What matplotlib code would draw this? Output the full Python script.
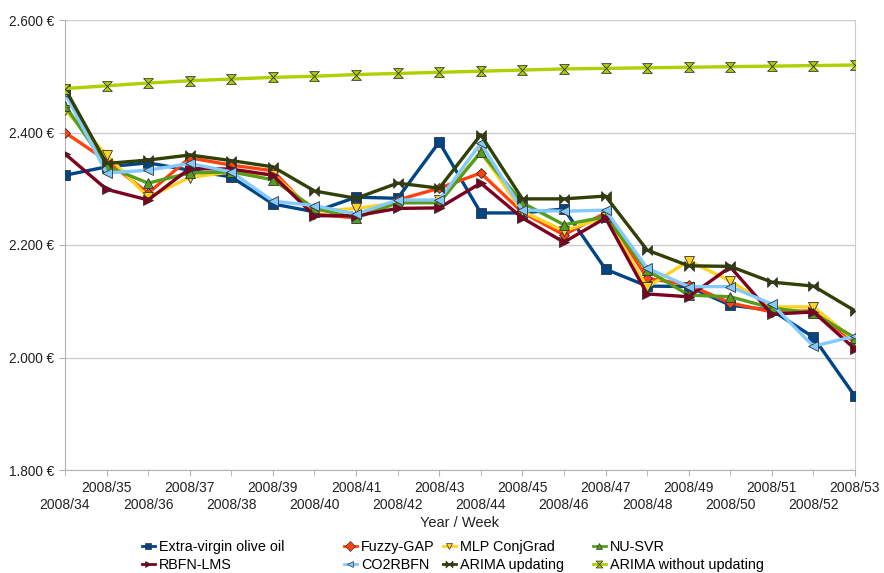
import matplotlib
matplotlib.use("Agg")
import matplotlib.pyplot as plt
from matplotlib.path import Path
from matplotlib.lines import Line2D
from matplotlib.ticker import FuncFormatter, FixedLocator, FixedFormatter

plt.rcParams['font.family'] = ['Liberation Sans', 'DejaVu Sans']

weeks = ["2008/%d" % w for w in range(34, 54)]

evoo = [2324, 2339, 2346, 2333, 2321, 2273, 2259, 2285, 2283, 2383, 2257, 2257, 2264, 2157, 2127, 2126, 2093, 2084, 2036, 1931]
fuzzy = [2400, 2350, 2292, 2355, 2342, 2332, 2255, 2248, 2280, 2301, 2328, 2258, 2218, 2257, 2141, 2129, 2097, 2081, 2083, 2027]
mlp = [2440, 2360, 2285, 2320, 2330, 2325, 2260, 2265, 2275, 2280, 2365, 2260, 2225, 2250, 2125, 2172, 2136, 2090, 2090, 2030]
nusvr = [2448, 2340, 2310, 2328, 2330, 2316, 2265, 2248, 2275, 2275, 2365, 2275, 2236, 2250, 2155, 2111, 2108, 2088, 2079, 2035]
rbfn = [2362, 2299, 2280, 2336, 2335, 2324, 2252, 2252, 2265, 2266, 2310, 2248, 2205, 2248, 2113, 2108, 2161, 2077, 2081, 2015]
co2 = [2470, 2328, 2333, 2345, 2330, 2278, 2270, 2255, 2280, 2280, 2381, 2262, 2260, 2262, 2159, 2126, 2126, 2095, 2020, 2038]
arima_upd = [2478, 2345, 2351, 2360, 2350, 2339, 2296, 2283, 2310, 2301, 2396, 2282, 2282, 2287, 2191, 2163, 2162, 2134, 2127, 2083]
arima_wo = [2478, 2483, 2488, 2492, 2495, 2498, 2500, 2503, 2505, 2507, 2509, 2511, 2513, 2514, 2515, 2516, 2517, 2518, 2519, 2520]

names = ["Extra-virgin olive oil", "Fuzzy-GAP", "MLP ConjGrad", "NU-SVR",
         "RBFN-LMS", "CO2RBFN", "ARIMA updating", "ARIMA without updating"]
series = [evoo, fuzzy, mlp, nusvr, rbfn, co2, arima_upd, arima_wo]
colors = ["#004586", "#ff420e", "#ffd320", "#579d1c", "#7e0021", "#83caff", "#314004", "#aecf00"]

bowtie = Path([(-1, -1), (-1, 1), (1, -1), (1, 1), (-1, -1)],
              [Path.MOVETO, Path.LINETO, Path.LINETO, Path.LINETO, Path.CLOSEPOLY])
hourglass = Path([(-1, 1), (1, 1), (-1, -1), (1, -1), (-1, 1)],
                 [Path.MOVETO, Path.LINETO, Path.LINETO, Path.LINETO, Path.CLOSEPOLY])
markers = ["s", "D", "v", "^", ">", "<", bowtie, hourglass]
msizes = [6.5, 5, 7, 7, 7, 7, 7, 7]

fig = plt.figure(figsize=(8.84, 5.73), dpi=100)
ax = fig.add_axes([65/884, 1-470/573, (855-65)/884, (470-20)/573])

x = list(range(len(weeks)))
for name, vals, c, m, ms in zip(names, series, colors, markers, msizes):
    ax.plot(x, vals, color=c, lw=2.4, marker=m, ms=ms,
            markerfacecolor=c, markeredgecolor="#333333", markeredgewidth=0.6,
            label=name, zorder=3)

ax.set_xlim(0, len(weeks)-1)
ax.set_ylim(1800, 2600)
ax.yaxis.set_major_locator(FixedLocator([1800, 2000, 2200, 2400, 2600]))
ax.yaxis.set_major_formatter(FuncFormatter(lambda v, p: ("{:,.0f}".format(v)).replace(",", ".") + " €"))
ax.grid(axis="y", color="#cccccc", lw=1)
ax.set_axisbelow(True)
ax.spines["top"].set_visible(False)
ax.spines["right"].set_color("#cccccc")
ax.spines["left"].set_color("#b3b3b3")
ax.spines["bottom"].set_color("#b3b3b3")
ax.tick_params(axis="y", colors="#b3b3b3", labelcolor="#222222", labelsize=9.8, length=4)

odd = [i for i in x if i % 2 == 1]
even = [i for i in x if i % 2 == 0]
ax.xaxis.set_major_locator(FixedLocator(odd))
ax.xaxis.set_major_formatter(FixedFormatter([weeks[i] for i in odd]))
ax.xaxis.set_minor_locator(FixedLocator(even))
ax.xaxis.set_minor_formatter(FixedFormatter([weeks[i] for i in even]))
ax.tick_params(axis="x", which="major", colors="#b3b3b3", labelcolor="#222222",
               labelsize=10, length=4, pad=4)
ax.tick_params(axis="x", which="minor", colors="#b3b3b3", labelcolor="#222222",
               labelsize=10, length=4, pad=16)
ax.set_xlabel("Year / Week", fontsize=10.5, color="#222222", labelpad=3)

def mk(i):
    return Line2D([], [], color=colors[i], lw=2, marker=markers[i], ms=5,
                  markerfacecolor=colors[i], markeredgecolor="#333333", markeredgewidth=0.5)

cols = [(148, [0, 4]), (350, [1, 5]), (449, [2, 6]), (599, [3, 7])]
fs = 10.4
hl = 0.9
for xc, idx in cols:
    left = xc - hl * fs * 100 / 72 / 2
    fig.legend([mk(i) for i in idx], [names[i] for i in idx],
               loc="upper left", bbox_to_anchor=(left/884, 1-540/573), ncol=1,
               frameon=False, fontsize=fs, handlelength=hl, handletextpad=0.3,
               labelspacing=0.25, borderpad=0, borderaxespad=0)

fig.savefig("out.png", dpi=100)
